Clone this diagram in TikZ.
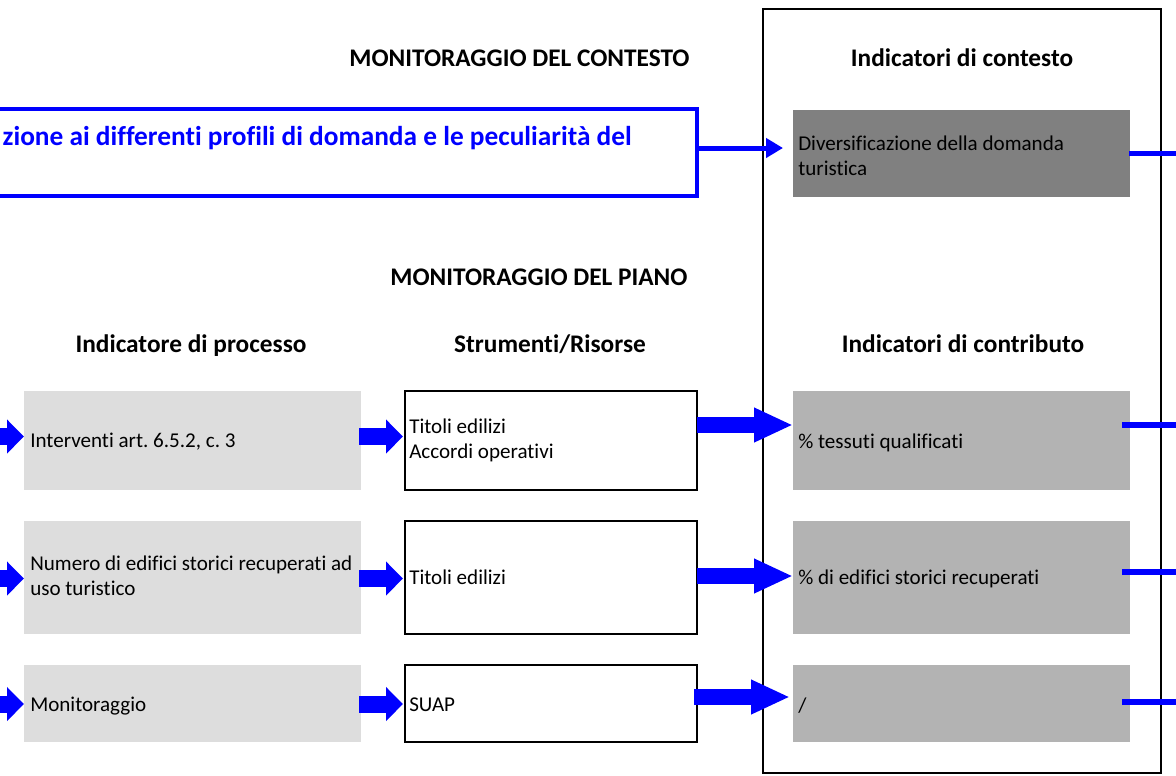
\documentclass[tikz,border=0pt]{standalone}
\usepackage{fontspec}
\setmainfont{Carlito}[Ligatures=NoCommon]
\usetikzlibrary{arrows.meta}
\definecolor{ctxblue}{HTML}{0000FF}
\definecolor{darkbox}{HTML}{808080}
\definecolor{midbox}{HTML}{B3B3B3}
\definecolor{lightbox}{HTML}{DDDDDD}
\tikzset{
  boxbase/.style={rectangle, inner sep=0pt, outer sep=0pt},
  procbox/.style={boxbase, fill=lightbox, minimum width=252.75pt},
  strbox/.style={boxbase, draw=black, line width=1.5pt, fill=white, minimum width=219pt},
  contrbox/.style={boxbase, fill=midbox, minimum width=252.75pt},
  ctxind/.style={boxbase, fill=darkbox, minimum width=252.75pt, minimum height=65.25pt},
  ctxframe/.style={boxbase, draw=ctxblue, line width=2.6pt, minimum width=537.75pt, minimum height=65.25pt},
  mainframe/.style={boxbase, draw=black, line width=1.5pt, minimum width=298.5pt, minimum height=573pt},
  txt/.style={inner sep=0pt, anchor=base west, align=left, font=\fontsize{15.8}{18.75}\selectfont\frenchspacing},
  hdr/.style={inner sep=0pt, anchor=base, font=\fontsize{19}{23}\selectfont\bfseries},
  bluetxt/.style={inner sep=0pt, anchor=base east, text=ctxblue, font=\fontsize{20.5}{25}\selectfont\bfseries},
  thinarrow/.style={draw=ctxblue, line width=3.75pt, -{Triangle[length=12.75pt,width=14.25pt]}},
  bigarrow/.style={draw=ctxblue, line width=12pt, -{Triangle[length=29.25pt,width=24pt]}},
  smallarrow/.style={draw=ctxblue, line width=12.75pt, -{Triangle[length=12.75pt,width=24.75pt]}},
  rline/.style={draw=ctxblue, line width=4.1pt},
}
\begin{document}
\begin{tikzpicture}[x=0.75pt,y=-0.75pt]
\useasboundingbox (0,0) rectangle (1176,775);
\clip (0,0) rectangle (1176,775);

% main frame
\node[mainframe] (frame) at (962,391) {};

% headers
\node[hdr] (hctx) at (519.5,66) {MONITORAGGIO DEL CONTESTO};
\node[hdr] (hind) at (962,66) {Indicatori di contesto};
\node[hdr] (hpiano) at (539,285) {MONITORAGGIO DEL PIANO};
\node[hdr] (hproc) at (191,352) {Indicatore di processo};
\node[hdr] (hstr) at (550,352) {Strumenti/Risorse};
\node[hdr] (hcontr) at (963,352) {Indicatori di contributo};

% context row
\node[ctxframe] (ctxbox) at (338.5,152.5) {};
\node[bluetxt] (ctxtxt) at (632,145) {zione ai differenti profili di domanda e le peculiarità del};
\node[ctxind] (ctxi) at (961.5,153.5) {};
\node[txt] (ctxitxt) at (798,175) {Diversificazione della domanda\\turistica};

% rows
\node[procbox, minimum height=74.25pt] (p1) at (192.5,440.5) {};
\node[procbox, minimum height=84.75pt] (p2) at (192.5,577.5) {};
\node[procbox, minimum height=57.75pt] (p3) at (192.5,703.5) {};
\node[strbox, minimum height=74.25pt] (s1) at (551,440.5) {};
\node[strbox, minimum height=84.75pt] (s2) at (551,577.5) {};
\node[strbox, minimum height=57.75pt] (s3) at (551,703.5) {};
\node[contrbox, minimum height=74.25pt] (c1) at (961.5,440.5) {};
\node[contrbox, minimum height=84.75pt] (c2) at (961.5,577.5) {};
\node[contrbox, minimum height=57.75pt] (c3) at (961.5,703.5) {};

\node[txt] (p1t) at (30,447) {Interventi art. 6.5.2, c. 3};
\node[txt] (p2t) at (30,595) {Numero di edifici storici recuperati ad\\uso turistico};
\node[txt] (p3t) at (30,711) {Monitoraggio};
\node[txt] (s1t) at (409,458) {Titoli edilizi\\Accordi operativi};
\node[txt] (s2t) at (409,584) {Titoli edilizi};
\node[txt] (s3t) at (409,711) {SUAP};
\node[txt] (c1t) at (798,448) {\% tessuti qualificati};
\node[txt] (c2t) at (798,584) {\% di edifici storici recuperati};
\node[txt] (c3t) at (798,712) {/};

% context arrow
\coordinate (a0) at ([yshift=3.375pt]ctxbox.east);
\draw[thinarrow, shorten >=7.5pt] (a0) -- (a0 -| ctxi.west);
\coordinate (e0) at (1180,153.5);
\draw[rline] ([xshift=-0.75pt]ctxi.east) -- (e0);

% left arrows
\coordinate (l1) at (-12,436.5);
\coordinate (l2) at (-12,578.5);
\coordinate (l3) at (-12,704);
\draw[smallarrow] (l1) -- (l1 -| p1.west);
\draw[smallarrow] (l2) -- (l2 -| p2.west);
\draw[smallarrow] (l3) -- (l3 -| p3.west);

% middle arrows
\path ([xshift=-1.5pt]p1.east) coordinate (p1e) ([xshift=-1.5pt]p2.east) coordinate (p2e) ([xshift=-1.5pt]p3.east) coordinate (p3e);
\draw[smallarrow, shorten >=1.5pt] (p1e |- l1) -- (l1 -| s1.west);
\draw[smallarrow, shorten >=1.5pt] (p2e |- l2) -- (l2 -| s2.west);
\draw[smallarrow, shorten >=1.5pt] (p3e |- l3) -- (l3 -| s3.west);

% big arrows
\coordinate (b1) at (0,425);
\coordinate (b2) at (0,576);
\coordinate (b3) at (0,697);
\draw[bigarrow] (s1.east |- b1) -- (b1 -| c1.west);
\draw[bigarrow] (s2.east |- b2) -- (b2 -| c2.west);
\path ([xshift=-2pt]s3.east) coordinate (s3e);
\draw[bigarrow, shorten >=2.25pt] (s3e |- b3) -- (b3 -| c3.west);

% right lines
\coordinate (e1) at (1180,425);
\coordinate (e2) at (1180,572);
\coordinate (e3) at (1180,702);
\path ([xshift=-6pt]c1.east) coordinate (c1r) ([xshift=-6pt]c2.east) coordinate (c2r) ([xshift=-6pt]c3.east) coordinate (c3r);
\draw[rline] (c1r |- e1) -- (e1);
\draw[rline] (c2r |- e2) -- (e2);
\draw[rline] (c3r |- e3) -- (e3);
\end{tikzpicture}
\end{document}
